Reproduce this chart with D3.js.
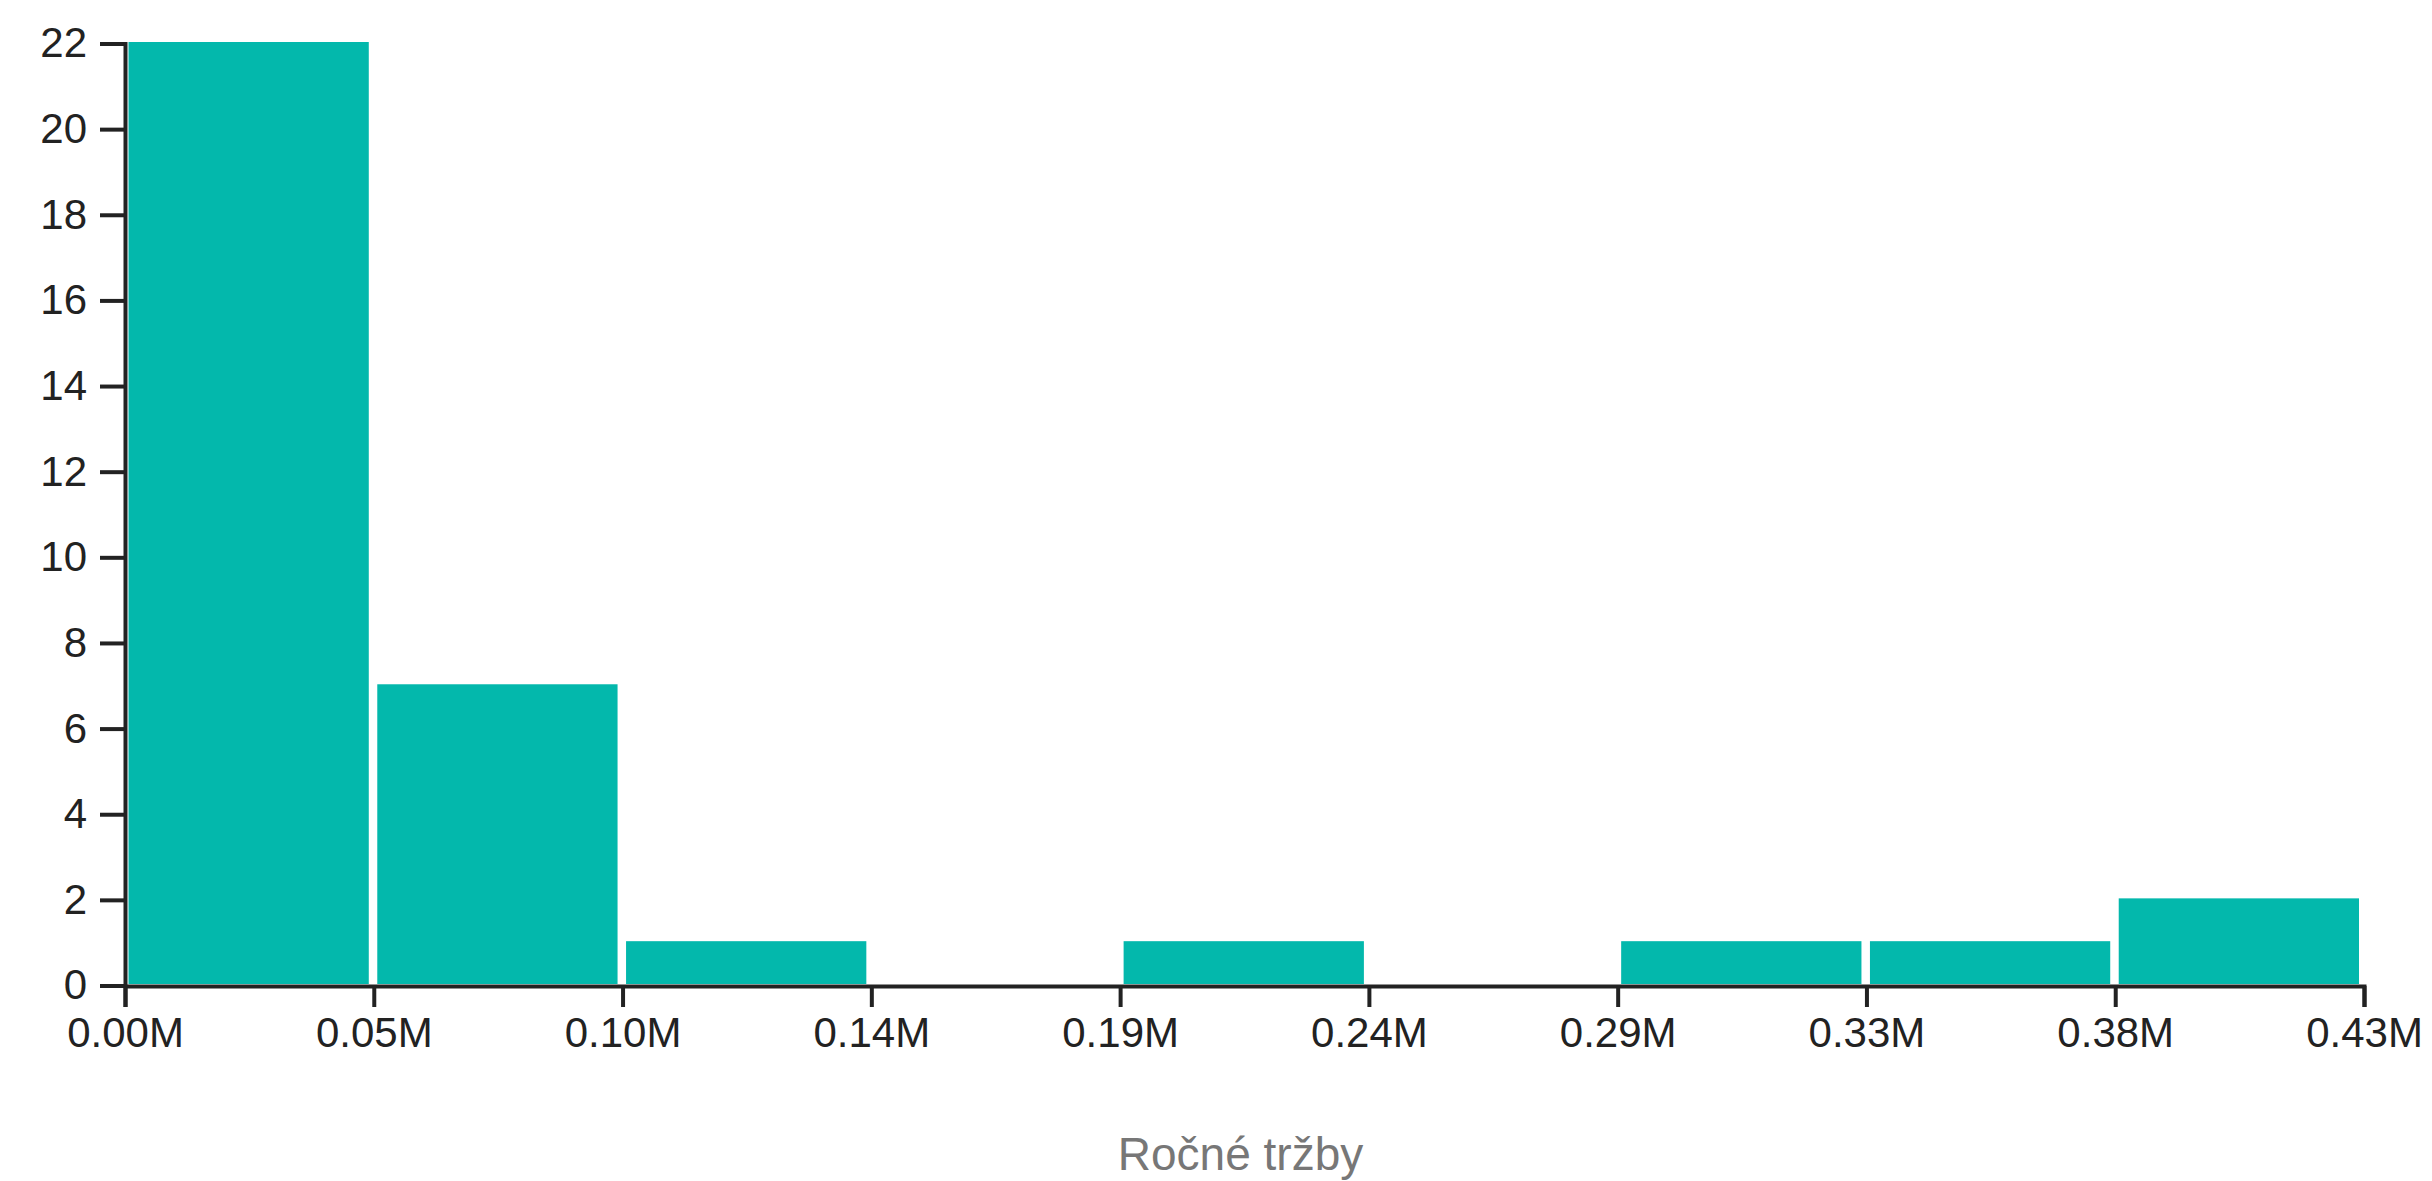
<!DOCTYPE html>
<html>
<head>
<meta charset="utf-8">
<script src="https://cdn.jsdelivr.net/npm/d3@7"></script>
<style>
  body { margin: 0; background: #fff; }
  svg { display: block; }
  text { font-family: "Liberation Sans", Arial, sans-serif; }
</style>
</head>
<body>
<svg id="chart" width="2432" height="1181"></svg>
<script>
// Data
const binCounts = [22, 7, 1, 0, 1, 0, 1, 1, 2];
const xMax = 429000;            // upper edge of the last bin (revenue)
const yTickValues = [0, 2, 4, 6, 8, 10, 12, 14, 16, 18, 20, 22];
const xTitle = "Ročné tržby";

const svg = d3.select("#chart");
const mLeft = 125, mRight = 2364, mTop = 42, mBottom = 984;

const nBins = binCounts.length;
const step = xMax / nBins;
const bins = binCounts.map((c, i) => ({ x0: i * step, x1: (i + 1) * step, count: c }));
const xEdges = d3.range(nBins + 1).map(i => i * step);

const x = d3.scaleLinear().domain([0, xMax]).range([mLeft, mRight]);
const y = d3.scaleLinear().domain([0, 22]).range([mBottom, mTop]);

// Bars
svg.append("g").selectAll("rect")
  .data(bins)
  .join("rect")
  .attr("x", d => x(d.x0) + 3.5)
  .attr("width", d => Math.max(0, x(d.x1) - x(d.x0) - 8.5))
  .attr("y", d => y(d.count))
  .attr("height", d => Math.max(0, y(0) - y(d.count)))
  .attr("fill", "#03b8ac");

// X axis
const xAxis = svg.append("g")
  .attr("transform", `translate(0,${mBottom + 2})`)
  .call(d3.axisBottom(x)
    .tickValues(xEdges)
    .tickFormat(v => (v / 1e6).toFixed(2) + "M")
    .tickSize(21)
    .tickPadding(10));

// Y axis
const yAxis = svg.append("g")
  .attr("transform", `translate(${mLeft},1.5)`)
  .call(d3.axisLeft(y)
    .tickValues(yTickValues)
    .tickFormat(d3.format("d"))
    .tickSize(25)
    .tickPadding(13));

[xAxis, yAxis].forEach(g => {
  g.selectAll("path.domain").attr("stroke", "#222").attr("stroke-width", 4);
  g.selectAll(".tick line").attr("stroke", "#222").attr("stroke-width", 4);
  g.selectAll(".tick text").attr("fill", "#222").style("font-size", "42px")
    .style("font-family", '"Liberation Sans", Arial, sans-serif');
});

// Axis title
svg.append("text")
  .attr("x", (mLeft + mRight) / 2 - 4)
  .attr("y", 1170)
  .attr("text-anchor", "middle")
  .attr("fill", "#777")
  .style("font-size", "46px")
  .text(xTitle);
</script>
</body>
</html>
